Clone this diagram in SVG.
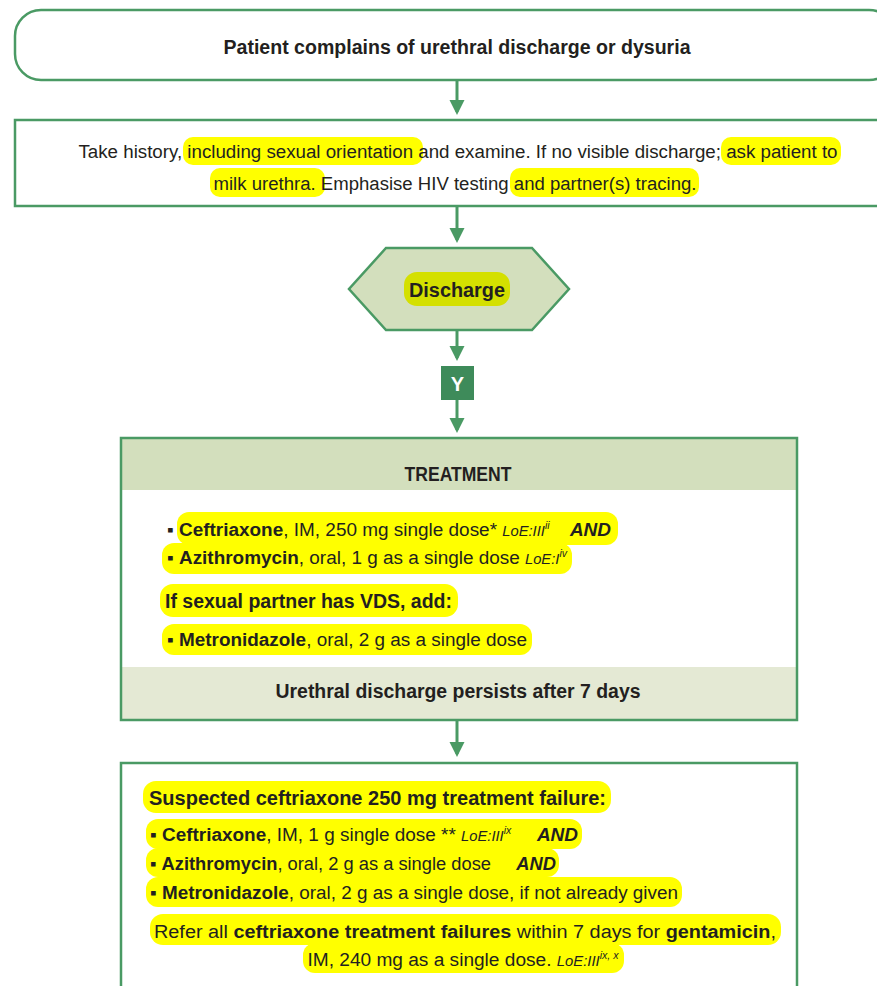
<svg xmlns="http://www.w3.org/2000/svg" width="877" height="986" viewBox="0 0 877 986">
<style>
.box{fill:#fff;stroke:#4a9a64;stroke-width:2.5}
.t{font-family:"Liberation Sans","DejaVu Sans",sans-serif;fill:#231f20;font-size:20px}
.m{font-size:18px}
.b{font-weight:bold}
.i{font-style:italic;font-size:14px}
.sup{font-style:italic;font-size:10px}
.hl{fill:#ffff00}
.con{stroke:#4a9a64;stroke-width:3;fill:none}
</style>
<defs>
<marker id="ah" markerWidth="6" markerHeight="6" refX="4" refY="2.5" orient="auto" markerUnits="strokeWidth">
<path d="M0,0 L5,2.5 L0,5 z" fill="#4a9a64"/>
</marker>
</defs>
<rect width="877" height="986" fill="#fff"/>
<g id="connectors">
<line class="con" x1="457" y1="80" x2="457" y2="112" marker-end="url(#ah)"/>
<line class="con" x1="457" y1="206" x2="457" y2="240" marker-end="url(#ah)"/>
<line class="con" x1="457" y1="330" x2="457" y2="358" marker-end="url(#ah)"/>
<line class="con" x1="457" y1="400" x2="457" y2="430" marker-end="url(#ah)"/>
<line class="con" x1="457" y1="720" x2="457" y2="754" marker-end="url(#ah)"/>
</g>
<g id="start">
<rect class="box" x="15" y="10" width="880" height="70" rx="26"/>
<text class="t b" x="457" y="54" text-anchor="middle" textLength="467" lengthAdjust="spacingAndGlyphs">Patient complains of urethral discharge or dysuria</text>
</g>
<g id="history">
<rect class="box" x="15" y="120" width="880" height="86"/>
<rect class="hl" x="183" y="137" width="240" height="28" rx="10"/>
<rect class="hl" x="721" y="137" width="120" height="28" rx="10"/>
<rect class="hl" x="210" y="168" width="115" height="29" rx="10"/>
<rect class="hl" x="510" y="168" width="189" height="29" rx="10"/>
<text class="t m" x="458" y="158" text-anchor="middle" textLength="759" lengthAdjust="spacingAndGlyphs">Take history, including sexual orientation and examine. If no visible discharge; ask patient to</text>
<text class="t m" x="455" y="190" text-anchor="middle" textLength="483" lengthAdjust="spacingAndGlyphs">milk urethra. Emphasise HIV testing and partner(s) tracing.</text>
</g>
<g id="discharge">
<polygon points="386,248 532,248 569,289 532,330 386,330 349,289" fill="#d3dfbd" stroke="#4a9a64" stroke-width="2.5"/>
<rect x="404" y="272" width="106" height="34" rx="13" fill="#d4e000"/>
<text class="t b" x="457" y="297" text-anchor="middle" font-size="21" textLength="96" lengthAdjust="spacingAndGlyphs">Discharge</text>
</g>
<g id="yes">
<rect x="441" y="366" width="33" height="34" fill="#3e8b5a"/>
<text class="t b" x="457.5" y="391" text-anchor="middle" font-size="20" style="fill:#fff">Y</text>
</g>
<g id="treatment">
<rect x="121" y="438" width="676" height="282" fill="#fff"/>
<rect x="121" y="438" width="676" height="52" fill="#d3dfbd"/>
<rect x="121" y="667" width="676" height="53" fill="#e4e9d4"/>
<rect x="121" y="438" width="676" height="282" fill="none" stroke="#4a9a64" stroke-width="2.5"/>
<text class="t b" x="458" y="481" text-anchor="middle" font-size="21" textLength="107" lengthAdjust="spacingAndGlyphs">TREATMENT</text>
<rect class="hl" x="177" y="512" width="441" height="33" rx="12"/>
<rect class="hl" x="162" y="543" width="410" height="31" rx="12"/>
<rect class="hl" x="160" y="584" width="298" height="33" rx="13"/>
<rect class="hl" x="162" y="624" width="370" height="31" rx="12"/>
<text class="t m" x="167" y="536" textLength="444" lengthAdjust="spacingAndGlyphs">▪ <tspan class="b">Ceftriaxone</tspan>, IM, 250 mg single dose* <tspan class="i">LoE:III</tspan><tspan class="sup" dy="-7">ii</tspan><tspan class="b" font-style="italic" dy="7">&#160;&#160;&#160; AND</tspan></text>
<text class="t m" x="167" y="564" textLength="400" lengthAdjust="spacingAndGlyphs">▪ <tspan class="b">Azithromycin</tspan>, oral, 1 g as a single dose <tspan class="i">LoE:I</tspan><tspan class="sup" dy="-7">iv</tspan></text>
<text class="t b" x="165" y="608" textLength="287" lengthAdjust="spacingAndGlyphs">If sexual partner has VDS, add:</text>
<text class="t m" x="167" y="646" textLength="360" lengthAdjust="spacingAndGlyphs">▪ <tspan class="b">Metronidazole</tspan>, oral, 2 g as a single dose</text>
<text class="t b" x="458" y="698" text-anchor="middle" textLength="365" lengthAdjust="spacingAndGlyphs">Urethral discharge persists after 7 days</text>
</g>
<g id="failure">
<rect class="box" x="121" y="763" width="676" height="240"/>
<rect class="hl" x="143" y="781" width="468" height="32" rx="13"/>
<rect class="hl" x="146" y="819" width="436" height="30" rx="12"/>
<rect class="hl" x="146" y="848" width="413" height="29" rx="12"/>
<rect class="hl" x="146" y="877" width="536" height="30" rx="12"/>
<rect class="hl" x="150" y="914" width="631" height="31" rx="13"/>
<rect class="hl" x="303" y="943" width="321" height="30" rx="12"/>
<text class="t b" x="149" y="805" textLength="457" lengthAdjust="spacingAndGlyphs">Suspected ceftriaxone 250 mg treatment failure:</text>
<text class="t m" x="150" y="841" textLength="428" lengthAdjust="spacingAndGlyphs">▪ <tspan class="b">Ceftriaxone</tspan>, IM, 1 g single dose ** <tspan class="i">LoE:III</tspan><tspan class="sup" dy="-7">ix</tspan><tspan class="b" font-style="italic" dy="7">&#160;&#160;&#160;&#160; AND</tspan></text>
<text class="t m" x="150" y="870" textLength="406" lengthAdjust="spacingAndGlyphs">▪ <tspan class="b">Azithromycin</tspan>, oral, 2 g as a single dose&#160;&#160;&#160;&#160; <tspan class="b" font-style="italic">AND</tspan></text>
<text class="t m" x="150" y="899" textLength="528" lengthAdjust="spacingAndGlyphs">▪ <tspan class="b">Metronidazole</tspan>, oral, 2 g as a single dose, if not already given</text>
<text class="t m" x="465" y="938" text-anchor="middle" textLength="622" lengthAdjust="spacingAndGlyphs">Refer all <tspan class="b">ceftriaxone treatment failures</tspan> within 7 days for <tspan class="b">gentamicin</tspan>,</text>
<text class="t m" x="463" y="966" text-anchor="middle" textLength="311" lengthAdjust="spacingAndGlyphs">IM, 240 mg as a single dose. <tspan class="i">LoE:III</tspan><tspan class="sup" dy="-7">ix, x</tspan></text>
</g>
</svg>
